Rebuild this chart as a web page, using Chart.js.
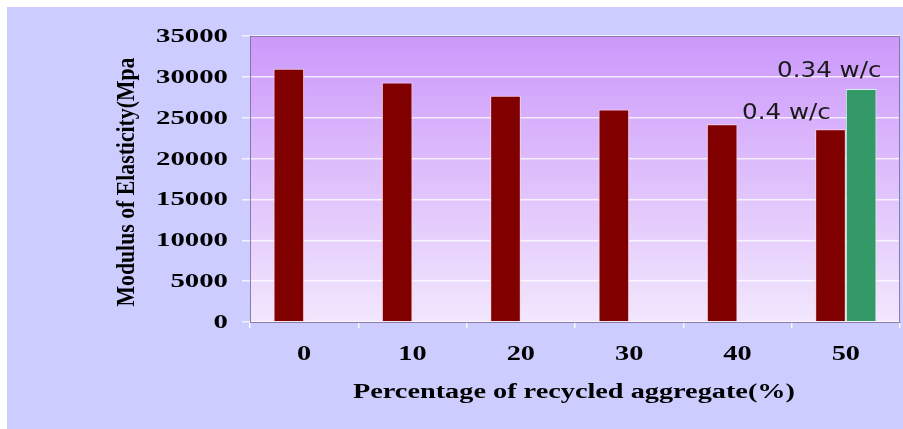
<!DOCTYPE html>
<html>
<head>
<meta charset="utf-8">
<script src="https://cdn.jsdelivr.net/npm/chart.js@4/dist/chart.umd.min.js"></script>
<style>
	html, body { margin: 0; padding: 0; background: #fff; }
	canvas { display: block; }
</style>
</head>
<body>
<canvas id="chart" width="903" height="429"></canvas>
<script>
// values
const categories = ['0', '10', '20', '30', '40', '50'];
const wc04Values = [31000, 29300, 27700, 26000, 24200, 23600];
const wc034Values = [null, null, null, null, null, 28500];
const seriesLabels = ['0.4 w/c', '0.34 w/c'];
const yMin = 0;
const yMax = 35000;
const yStep = 5000;
const xTitle = 'Percentage of recycled aggregate(%)';
const yTitle = 'Modulus of Elasticity(Mpa';

const SERIF = '"Liberation Serif", "Times New Roman", serif';
const SANS = '"DejaVu Sans", Verdana, sans-serif';

// text in the picture is stretched sideways, so draw it scaled
function drawText(ctx, text, x, y, font, sx, align, color) {
	ctx.save();
	ctx.font = font;
	ctx.textAlign = 'left';
	ctx.textBaseline = 'alphabetic';
	ctx.fillStyle = color || '#000';
	let w = ctx.measureText(text).width * sx;
	let left = align === 'right' ? x - w : align === 'center' ? x - w / 2 : x;
	ctx.translate(left, y);
	ctx.scale(sx, 1);
	ctx.fillText(text, 0, 0);
	ctx.restore();
}

const framePlugin = {
	id: 'frame',
	beforeDraw(chart) {
		let {ctx, chartArea: a, width, height} = chart;
		ctx.save();
		ctx.fillStyle = '#ffffff';
		ctx.fillRect(0, 0, width, height);
		ctx.fillStyle = '#ccccff';
		ctx.fillRect(7, 7, width - 7, height - 7);
		let g = ctx.createLinearGradient(0, a.top, 0, a.bottom);
		g.addColorStop(0, '#cc99fb');
		g.addColorStop(1, '#f2e7fd');
		ctx.fillStyle = g;
		ctx.fillRect(a.left, a.top, a.right - a.left, a.bottom - a.top);
		ctx.restore();
	},
	afterDraw(chart) {
		let {ctx, chartArea: a, scales} = chart;
		// top and right edges of the plot
		ctx.save();
		ctx.strokeStyle = 'rgba(125,105,160,0.85)';
		ctx.lineWidth = 1;
		ctx.beginPath();
		ctx.moveTo(a.left, a.top + 0.5);
		ctx.lineTo(a.right - 0.5, a.top + 0.5);
		ctx.lineTo(a.right - 0.5, a.bottom);
		ctx.stroke();
		ctx.restore();

		// y tick labels
		scales.y.ticks.forEach((t) => {
			let py = scales.y.getPixelForValue(t.value);
			drawText(ctx, String(t.value), 228, py + 6, 'bold 18px ' + SERIF, 1.6, 'right');
		});
		// x tick labels
		categories.forEach((c, i) => {
			let px = scales.x.getPixelForValue(i);
			drawText(ctx, c, px, 360, 'bold 21px ' + SERIF, 1.35, 'center');
		});

		// x title, fitted to its width in the picture
		ctx.save();
		ctx.font = 'bold 20px ' + SERIF;
		let xw = ctx.measureText(xTitle).width;
		ctx.restore();
		drawText(ctx, xTitle, 574, 398, 'bold 20px ' + SERIF, 442 / xw, 'center');

		// y title, rotated
		ctx.save();
		ctx.font = 'bold 20px ' + SERIF;
		let yw = ctx.measureText(yTitle).width;
		ctx.translate(134, 182);
		ctx.rotate(-Math.PI / 2);
		ctx.scale(249 / yw, 1.25);
		ctx.textAlign = 'center';
		ctx.textBaseline = 'alphabetic';
		ctx.fillStyle = '#000';
		ctx.fillText(yTitle, 0, 0);
		ctx.restore();

		// series labels next to the last pair of bars
		let last = categories.length - 1;
		let offsets = [{dx: -15, dy: -10}, {dx: 5, dy: -12}];
		chart.data.datasets.forEach((ds, i) => {
			let bar = chart.getDatasetMeta(i).data[last];
			if (!bar) return;
			let right = bar.x + bar.width / 2 + offsets[i].dx;
			drawText(ctx, ds.label, right, bar.y + offsets[i].dy, '21px ' + SANS, 1.17, 'right', '#1a1a1a');
		});
	},
};

new Chart(document.getElementById('chart'), {
	type: 'bar',
	data: {
		labels: categories,
		datasets: [
			{
				label: seriesLabels[0],
				data: wc04Values,
				backgroundColor: '#800000',
				borderColor: 'rgba(255,215,215,0.85)',
				borderWidth: 1,
			},
			{
				label: seriesLabels[1],
				data: wc034Values,
				backgroundColor: '#339966',
				borderColor: 'rgba(215,255,230,0.85)',
				borderWidth: 1,
			},
		],
	},
	options: {
		responsive: false,
		animation: false,
		devicePixelRatio: 1,
		categoryPercentage: 0.566,
		barPercentage: 1,
		layout: {
			padding: {left: 242, top: 36, right: 3, bottom: 101},
		},
		plugins: {
			legend: {display: false},
			tooltip: {enabled: false},
		},
		scales: {
			x: {
				grid: {
					drawOnChartArea: false,
					drawTicks: true,
					tickLength: 6,
					color: 'rgba(255,255,255,0.9)',
					lineWidth: 1.5,
				},
				border: {color: 'rgba(125,105,160,0.85)', width: 1},
				ticks: {display: false},
			},
			y: {
				min: yMin,
				max: yMax,
				ticks: {display: false, stepSize: yStep},
				grid: {
					color: 'rgba(255,255,255,0.75)',
					lineWidth: 1.5,
					tickLength: 8,
				},
				border: {color: 'rgba(125,105,160,0.85)', width: 1},
			},
		},
	},
	plugins: [framePlugin],
});
</script>
</body>
</html>
